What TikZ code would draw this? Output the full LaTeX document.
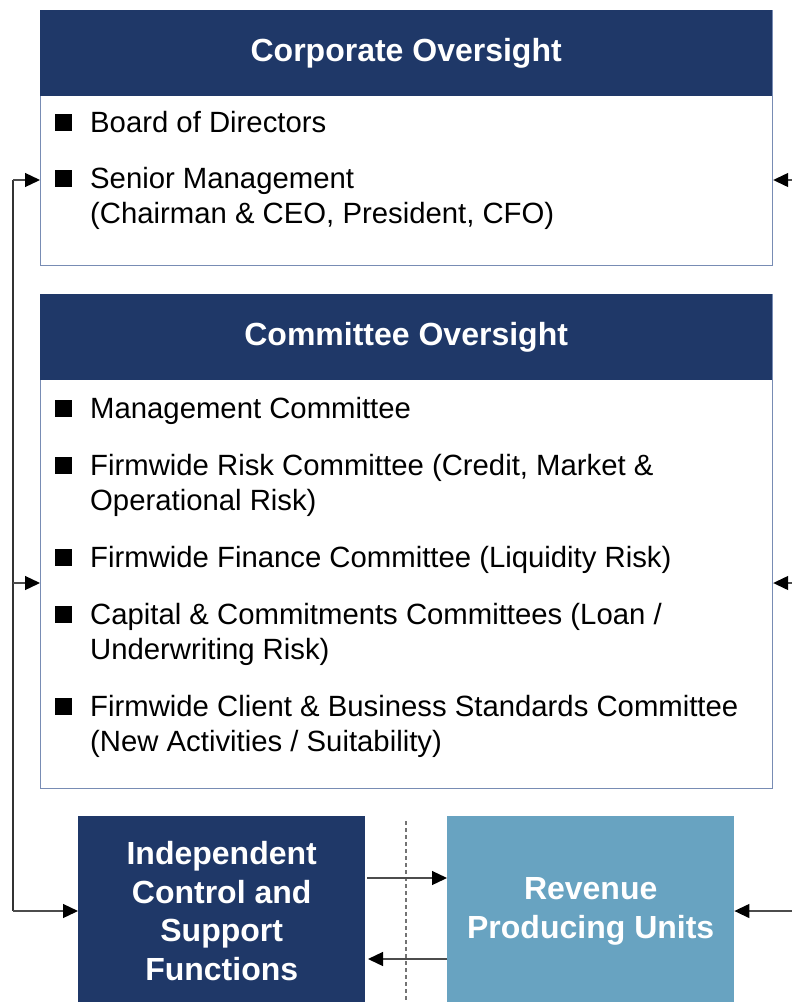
\documentclass[tikz,border=0pt]{standalone}
\usepackage{fontspec}
\setmainfont{Liberation Sans}
\usetikzlibrary{arrows.meta,positioning}

\definecolor{navy}{RGB}{31,56,104}
\definecolor{steel}{RGB}{104,163,193}
\definecolor{edgeblue}{RGB}{120,140,180}

\tikzset{
  panel/.style={draw=edgeblue, line width=1.2pt, fill=white, anchor=north west,
    minimum width=732pt, inner sep=0pt},
  header/.style={fill=navy, text=white, anchor=north west, minimum width=732pt,
    minimum height=86pt, inner sep=0pt, font=\fontsize{32}{38}\selectfont\bfseries},
  entry/.style={anchor=base west, inner sep=0pt, align=left,
    font=\fontsize{29.3}{35}\selectfont},
  bullet/.style={fill=black, minimum size=17pt, inner sep=0pt},
  unit/.style={anchor=north west, minimum width=287pt, minimum height=190pt,
    inner sep=0pt, text=white, align=center, font=\fontsize{32}{38.5}\selectfont\bfseries},
  link/.style={line width=1.3pt, draw=black!70,
    -{Triangle[length=15pt,width=14pt,color=black]}},
}

\begin{document}
\begin{tikzpicture}[x=1pt, y=-1pt]
  \useasboundingbox (0,0) rectangle (792,1002);

  % corporate oversight
  \node[panel, minimum height=255pt] (corp) at (40,10) {};
  \node[header] (corphead) at (40,10) {Corporate Oversight};
  % bullet centre / extra lines / text (base anchor sits on the last line)
  \foreach \yc/\nl/\txt [count=\i] in {122/0/{Board of Directors},
      178/1/{Senior Management\\(Chairman \& CEO, President, CFO)}} {
    \node[bullet] (cb\i) at (63,\yc) {};
    \node[entry] (ce\i) at (90,\yc+10+35*\nl) {\txt};
  }

  % committee oversight
  \node[panel, minimum height=494pt] (comm) at (40,294) {};
  \node[header] (commhead) at (40,294) {Committee Oversight};
  \foreach \yc/\nl/\txt [count=\i] in {408/0/{Management Committee},
      465/1/{Firmwide Risk Committee (Credit, Market \&\\Operational Risk)},
      557/0/{Firmwide Finance Committee (Liquidity Risk)},
      614/1/{Capital \& Commitments Committees (Loan /\\Underwriting Risk)},
      706/1/{Firmwide Client \& Business Standards Committee\\(New Activities / Suitability)}} {
    \node[bullet] (mb\i) at (63,\yc) {};
    \node[entry] (me\i) at (90,\yc+10+35*\nl) {\txt};
  }

  % bottom units
  \node[unit, fill=navy] (indep) at (78,816)
    {Independent\\Control and\\Support\\Functions};
  \node[unit, fill=steel] (rev) at (447,816) {Revenue\\Producing Units};
  \draw[dash pattern=on 4pt off 3pt, line width=1.2pt, black!55] (406,821) -- (406,1002);

  % connectors
  \coordinate (ltop) at (13,180);
  \coordinate (lmid) at (13,583);
  \coordinate (lbot) at (13,911);
  \draw[line width=1.3pt, black!80] (ltop) -- (lbot);
  \draw[link] (ltop) -- (ltop -| corp.west);
  \draw[link] (lmid) -- (lmid -| comm.west);
  \draw[link] (lbot) -- (lbot -| indep.west);

  \coordinate (rtop) at (792,180);
  \coordinate (rmid) at (792,583);
  \coordinate (rbot) at (792,911);
  \draw[link] (rtop) -- (rtop -| corp.east);
  \draw[link] (rmid) -- (rmid -| comm.east);
  \draw[link] (rbot) -- (rbot -| rev.east);

  \coordinate (fwd) at (367,878);
  \coordinate (back) at (368,959);
  \draw[link] (fwd) -- (fwd -| rev.west);
  \draw[link] (back -| rev.west) -- (back);
\end{tikzpicture}
\end{document}
